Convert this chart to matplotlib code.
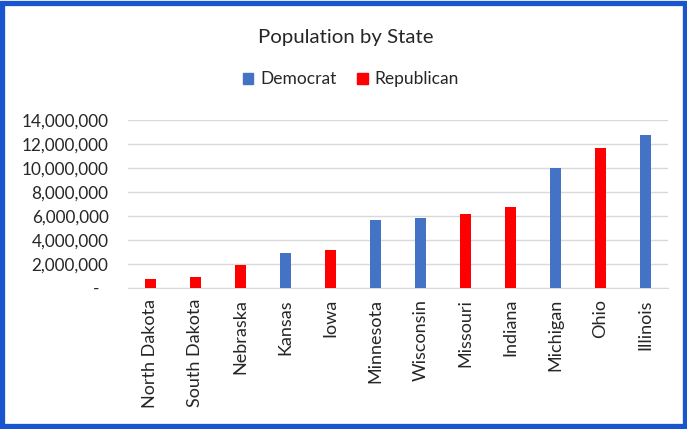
import matplotlib
matplotlib.use("Agg")
import matplotlib.pyplot as plt
from matplotlib.patches import Patch, Rectangle
from matplotlib.ticker import FuncFormatter

states = ["North Dakota", "South Dakota", "Nebraska", "Kansas", "Iowa", "Minnesota",
          "Wisconsin", "Missouri", "Indiana", "Michigan", "Ohio", "Illinois"]
population = [760000, 880000, 1930000, 2910000, 3190000, 5640000,
              5850000, 6160000, 6730000, 9970000, 11690000, 12740000]
party = ["R", "R", "R", "D", "R", "D", "D", "R", "R", "D", "R", "D"]

BLUE = "#4472C4"
RED = "#FF0000"
colors = [BLUE if p == "D" else RED for p in party]

plt.rcParams["font.family"] = ["Lato", "DejaVu Sans"]

fig = plt.figure(figsize=(6.87, 4.29), dpi=100)
ax = fig.add_axes([0.1863, 0.3287, 0.786, 0.3916])

x = range(len(states))
ax.bar(x, population, width=0.24, color=colors, zorder=3)

ax.set_xlim(-0.5, len(states) - 0.5)
ax.set_ylim(0, 14000000)
ax.set_yticks(range(0, 14000001, 2000000))
ax.yaxis.set_major_formatter(FuncFormatter(lambda v, _: f"{v:,.0f}" if v else "-  "))
ax.set_xticks(list(x))
ax.set_xticklabels(states, rotation=90, fontsize=13, color="#262626")
ax.tick_params(axis="y", labelsize=12.3, labelcolor="#262626", length=0, pad=14)
ax.tick_params(axis="x", length=0, pad=8)
ax.grid(axis="y", color="#D9D9D9", lw=1, zorder=0)
for s in ["top", "right", "left"]:
    ax.spines[s].set_visible(False)
ax.spines["bottom"].set_color("#D9D9D9")

fig.text(0.503, 0.913, "Population by State", ha="center", va="center", fontsize=14.7, color="#262626")
handles = [Patch(color=BLUE, label="Democrat"), Patch(color=RED, label="Republican")]
fig.legend(handles=handles, loc="center", bbox_to_anchor=(0.511, 0.815), ncol=2, frameon=False,
           fontsize=12.5, handlelength=0.6, handleheight=0.6, handletextpad=0.4, columnspacing=1.2,
           labelcolor="#262626")

# blue frame round the whole chart
fig.patches.append(Rectangle((0.0035, 0.006), 0.993, 0.988, transform=fig.transFigure,
                             fill=False, edgecolor="#1A55D0", lw=3.8))

fig.savefig("out.png", dpi=100)
